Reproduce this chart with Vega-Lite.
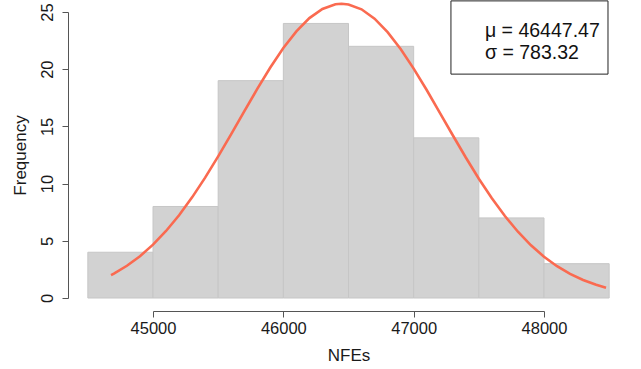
{
  "$schema": "https://vega.github.io/schema/vega-lite/v6.json",
  "width": 391,
  "height": 286,
  "autosize": {"type": "none"},
  "padding": {"left": 153, "top": 12, "right": 97, "bottom": 71},
  "background": "white",
  "config": {
    "view": {"stroke": null},
    "font": "Liberation Sans",
    "axis": {
      "grid": false,
      "domainColor": "#555555",
      "tickColor": "#555555",
      "labelColor": "#1a1a1a",
      "titleColor": "#1a1a1a",
      "labelFontSize": 16.5,
      "titleFontSize": 17,
      "titleFontWeight": "normal",
      "tickSize": 6,
      "labelFlush": false,
      "labelOverlap": false,
      "labelFont": "Liberation Sans",
      "titleFont": "Liberation Sans"
    }
  },
  "datasets": {
    "bins": [
      {"start": 44500, "end": 45000, "count": 4},
      {"start": 45000, "end": 45500, "count": 8},
      {"start": 45500, "end": 46000, "count": 19},
      {"start": 46000, "end": 46500, "count": 24},
      {"start": 46500, "end": 47000, "count": 22},
      {"start": 47000, "end": 47500, "count": 14},
      {"start": 47500, "end": 48000, "count": 7},
      {"start": 48000, "end": 48500, "count": 3}
    ],
    "curve": [
      {"nfe": 44678, "freq": 2.006},
      {"nfe": 44700, "freq": 2.136},
      {"nfe": 44800, "freq": 2.817},
      {"nfe": 44900, "freq": 3.654},
      {"nfe": 45000, "freq": 4.664},
      {"nfe": 45100, "freq": 5.857},
      {"nfe": 45200, "freq": 7.236},
      {"nfe": 45300, "freq": 8.796},
      {"nfe": 45400, "freq": 10.519},
      {"nfe": 45500, "freq": 12.375},
      {"nfe": 45600, "freq": 14.324},
      {"nfe": 45700, "freq": 16.313},
      {"nfe": 45800, "freq": 18.278},
      {"nfe": 45900, "freq": 20.145},
      {"nfe": 46000, "freq": 21.847},
      {"nfe": 46100, "freq": 23.309},
      {"nfe": 46200, "freq": 24.467},
      {"nfe": 46300, "freq": 25.267},
      {"nfe": 46400, "freq": 25.672},
      {"nfe": 46447, "freq": 25.719},
      {"nfe": 46500, "freq": 25.661},
      {"nfe": 46600, "freq": 25.236},
      {"nfe": 46700, "freq": 24.416},
      {"nfe": 46800, "freq": 23.242},
      {"nfe": 46900, "freq": 21.766},
      {"nfe": 47000, "freq": 20.054},
      {"nfe": 47100, "freq": 18.179},
      {"nfe": 47200, "freq": 16.212},
      {"nfe": 47300, "freq": 14.225},
      {"nfe": 47400, "freq": 12.279},
      {"nfe": 47500, "freq": 10.429},
      {"nfe": 47600, "freq": 8.713},
      {"nfe": 47700, "freq": 7.162},
      {"nfe": 47800, "freq": 5.792},
      {"nfe": 47900, "freq": 4.608},
      {"nfe": 48000, "freq": 3.608},
      {"nfe": 48100, "freq": 2.777},
      {"nfe": 48200, "freq": 2.105},
      {"nfe": 48300, "freq": 1.569},
      {"nfe": 48400, "freq": 1.151},
      {"nfe": 48476, "freq": 0.9}
    ],
    "box": [
      {"x1": 47286, "x2": 48491, "y1": 19.57, "y2": 25.97}
    ],
    "stats": [
      {"label": "μ = 46447.47", "x": 47547, "y": 23.32},
      {"label": "σ = 783.32", "x": 47547, "y": 21.42}
    ]
  },
  "layer": [
    {
      "data": {"name": "bins"},
      "mark": {"type": "rect", "fill": "#d2d2d2", "stroke": "#c6c6c6", "strokeWidth": 1},
      "encoding": {
        "x": {
          "field": "start", "type": "quantitative",
          "scale": {"domain": [45000, 48000], "nice": false, "zero": false},
          "axis": {"title": "NFEs", "values": [45000, 46000, 47000, 48000], "offset": 13, "labelPadding": 3, "titlePadding": 11, "format": "d"}
        },
        "x2": {"field": "end"},
        "y": {
          "field": "count", "type": "quantitative",
          "scale": {"domain": [0, 25], "nice": false},
          "axis": {"title": "Frequency", "values": [0, 5, 10, 15, 20, 25], "offset": 85, "labelAngle": 270, "labelAlign": "center", "labelBaseline": "bottom", "labelPadding": 7, "titlePadding": 10}
        },
        "y2": {"datum": 0}
      }
    },
    {
      "data": {"name": "curve"},
      "mark": {"type": "line", "color": "#FA6A50", "strokeWidth": 2.6, "clip": false},
      "encoding": {
        "x": {"field": "nfe", "type": "quantitative"},
        "y": {"field": "freq", "type": "quantitative"}
      }
    },
    {
      "data": {"name": "box"},
      "mark": {"type": "rect", "fill": "white", "stroke": "#222222", "strokeWidth": 1},
      "encoding": {
        "x": {"field": "x1", "type": "quantitative"},
        "x2": {"field": "x2"},
        "y": {"field": "y1", "type": "quantitative"},
        "y2": {"field": "y2"}
      }
    },
    {
      "data": {"name": "stats"},
      "mark": {"type": "text", "align": "left", "baseline": "middle", "fontSize": 19.5, "font": "Liberation Sans", "color": "#111111"},
      "encoding": {
        "x": {"field": "x", "type": "quantitative"},
        "y": {"field": "y", "type": "quantitative"},
        "text": {"field": "label"}
      }
    }
  ]
}
